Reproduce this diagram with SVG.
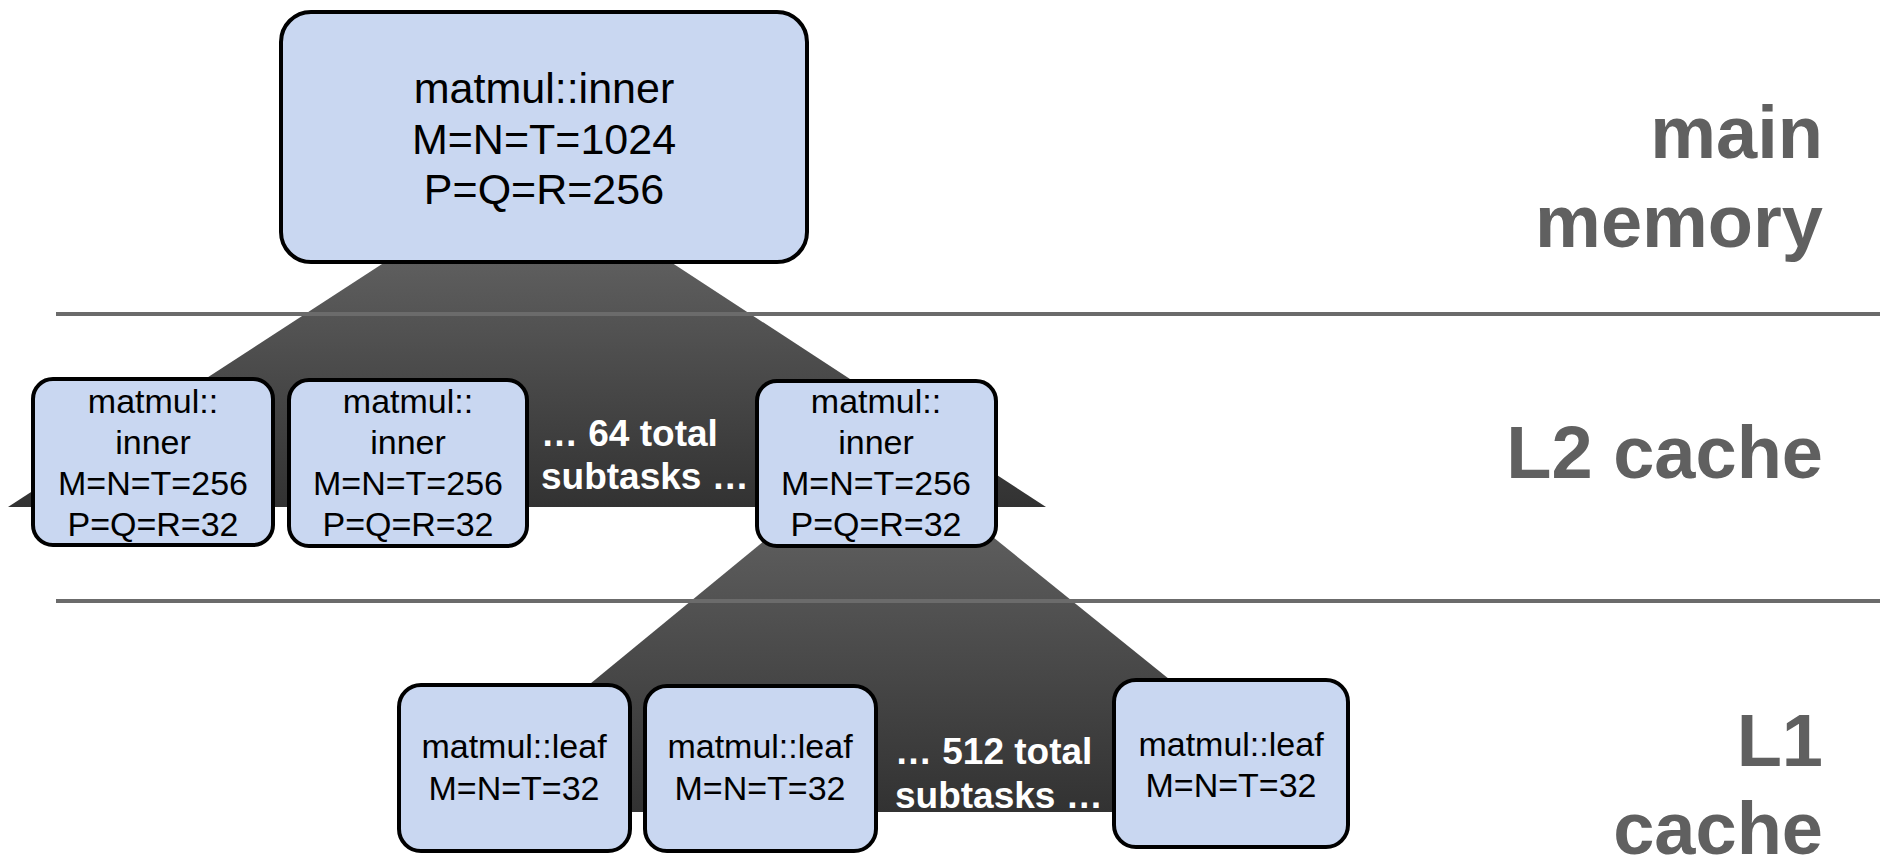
<svg xmlns="http://www.w3.org/2000/svg" width="1891" height="857" viewBox="0 0 1891 857">
  <defs>
    <linearGradient id="fan" x1="0" y1="0" x2="0" y2="1">
      <stop offset="0" stop-color="#626262"/>
      <stop offset="1" stop-color="#323232"/>
    </linearGradient>
    <style>
      .task { fill: #c9d7f1; stroke: #000; stroke-width: 4; }
      .t { font-family: "Liberation Sans", Arial, sans-serif; fill: #000; text-anchor: middle; }
      .t43 { font-size: 43px; }
      .t34 { font-size: 34px; }
      .more { font-family: "Liberation Sans", Arial, sans-serif; font-weight: bold; font-size: 37px; fill: #fff; }
      .level { font-family: "Liberation Sans", Arial, sans-serif; font-weight: bold; font-size: 74px; fill: #606060; text-anchor: end; }
      .sep { stroke: #6b6b6b; stroke-width: 4; }
    </style>
  </defs>

  <rect width="1891" height="857" fill="#fff"/>

  <!-- fan-out from each task to its subtasks -->
  <g id="connectors">
    <polygon points="419,240 637,240 1046,507 8,507" fill="url(#fan)"/>
    <polygon points="814,500 947,500 1334,812 434,812" fill="url(#fan)"/>
  </g>

  <!-- memory level separators -->
  <g id="levels">
    <line class="sep" x1="56" y1="314" x2="1880" y2="314"/>
    <line class="sep" x1="56" y1="601" x2="1880" y2="601"/>
    <text class="level" x="1823" y="158">main</text>
    <text class="level" x="1823" y="247">memory</text>
    <text class="level" x="1823" y="478">L2 cache</text>
    <text class="level" x="1823" y="766">L1</text>
    <text class="level" x="1823" y="854">cache</text>
  </g>

  <!-- root task -->
  <g id="root">
    <rect class="task" x="281" y="12" width="526" height="250" rx="30"/>
    <text class="t t43" x="544" y="103">matmul::inner</text>
    <text class="t t43" x="544" y="154">M=N=T=1024</text>
    <text class="t t43" x="544" y="204">P=Q=R=256</text>
  </g>

  <!-- L2-level subtasks -->
  <g id="l2-a">
    <rect class="task" x="33" y="379" width="240" height="166" rx="20"/>
    <text class="t t34" x="153" y="413">matmul::</text>
    <text class="t t34" x="153" y="454">inner</text>
    <text class="t t34" x="153" y="495">M=N=T=256</text>
    <text class="t t34" x="153" y="536">P=Q=R=32</text>
  </g>
  <g id="l2-b">
    <rect class="task" x="289" y="380" width="238" height="166" rx="20"/>
    <text class="t t34" x="408" y="413">matmul::</text>
    <text class="t t34" x="408" y="454">inner</text>
    <text class="t t34" x="408" y="495">M=N=T=256</text>
    <text class="t t34" x="408" y="536">P=Q=R=32</text>
  </g>
  <g id="l2-more">
    <text class="more" x="541" y="446">… 64 total</text>
    <text class="more" x="541" y="489">subtasks …</text>
  </g>
  <g id="l2-c">
    <rect class="task" x="757" y="381" width="239" height="165" rx="20"/>
    <text class="t t34" x="876" y="413">matmul::</text>
    <text class="t t34" x="876" y="454">inner</text>
    <text class="t t34" x="876" y="495">M=N=T=256</text>
    <text class="t t34" x="876" y="536">P=Q=R=32</text>
  </g>

  <!-- L1-level leaf subtasks -->
  <g id="l1-a">
    <rect class="task" x="399" y="685" width="231" height="166" rx="22"/>
    <text class="t t34" x="514" y="758">matmul::leaf</text>
    <text class="t t34" x="514" y="800">M=N=T=32</text>
  </g>
  <g id="l1-b">
    <rect class="task" x="645" y="686" width="231" height="165" rx="22"/>
    <text class="t t34" x="760" y="758">matmul::leaf</text>
    <text class="t t34" x="760" y="800">M=N=T=32</text>
  </g>
  <g id="l1-more">
    <text class="more" x="895" y="764">… 512 total</text>
    <text class="more" x="895" y="808">subtasks …</text>
  </g>
  <g id="l1-c">
    <rect class="task" x="1114" y="680" width="234" height="167" rx="22"/>
    <text class="t t34" x="1231" y="756">matmul::leaf</text>
    <text class="t t34" x="1231" y="797">M=N=T=32</text>
  </g>
</svg>
